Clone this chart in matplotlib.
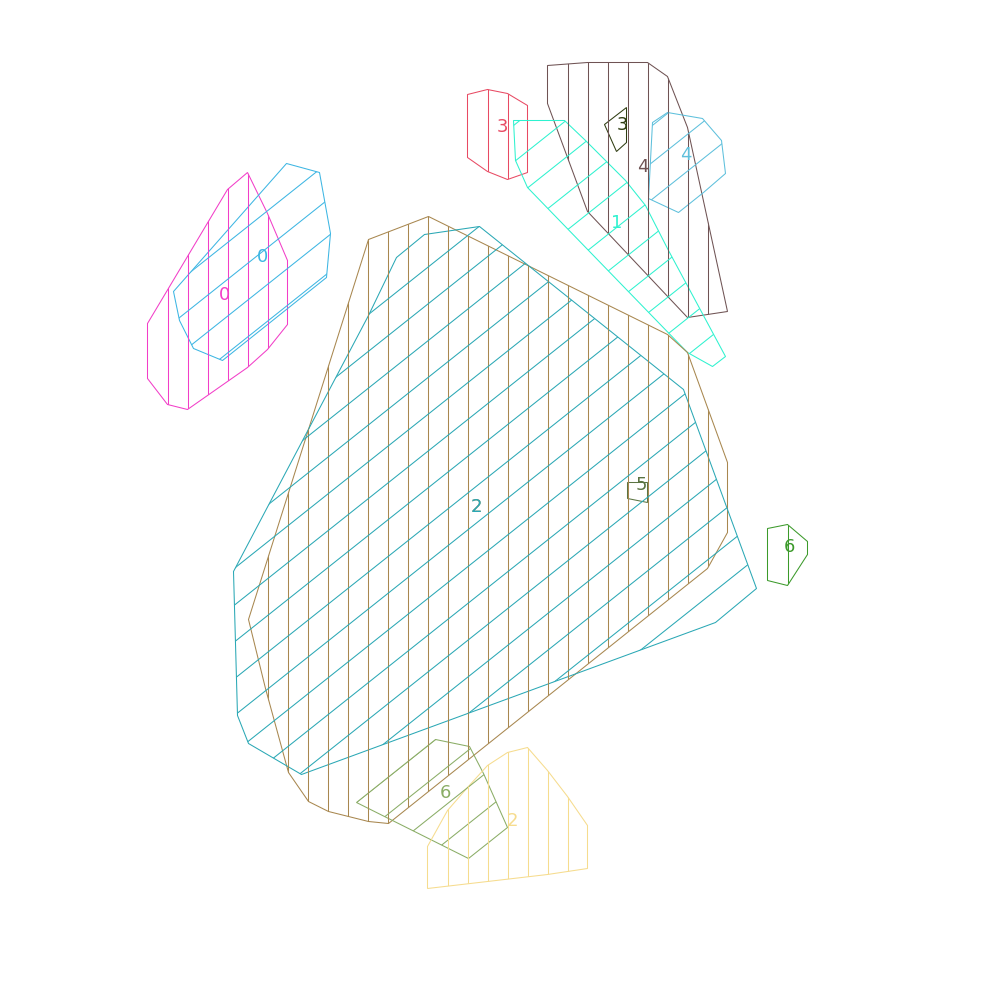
import matplotlib
matplotlib.use("Agg")
import matplotlib.pyplot as plt
import numpy as np
from matplotlib.patches import Polygon
from matplotlib.collections import LineCollection

# Cluster hulls, in pixel coordinates (x right, y down)
hull_0a = [(247, 172), (267, 213), (287, 260), (287, 324), (267, 349), (247, 367), (187, 409),
           (167, 404), (147, 378), (147, 323), (227, 189)]
hull_0b = [(286, 163), (319, 172), (330, 233), (326, 277), (222, 360), (193, 348), (179, 320), (173, 291)]
hull_3a = [(467, 94), (487, 89), (507, 93), (527, 105), (527, 172), (507, 179), (487, 171), (467, 157)]
hull_4a = [(547, 65), (587, 62), (647, 62), (667, 76), (687, 127), (727, 311), (687, 317), (587, 211), (547, 103)]
hull_3b = [(626, 107), (626, 142), (616, 151), (604, 124)]
hull_1 = [(513, 120), (564, 120), (585, 140), (625, 180), (645, 205), (668, 250), (725, 356),
          (712, 366), (687, 352), (527, 187), (515, 160)]
hull_4b = [(667, 112), (702, 118), (721, 140), (725, 173), (703, 192), (678, 212), (648, 198), (652, 122)]
hull_2a = [(428, 216), (667, 334), (687, 352), (727, 462), (727, 532), (707, 568), (388, 823), (368, 821),
           (328, 811), (308, 801), (288, 772), (265, 688), (248, 619), (368, 239)]
hull_2b = [(479, 226), (683, 389), (756, 588), (715, 622), (301, 774), (248, 743), (237, 715),
           (233, 571), (368, 315), (396, 257), (424, 234)]
hull_5 = [(627, 482), (647, 482), (647, 502), (627, 498)]
hull_6a = [(767, 528), (787, 524), (807, 541), (807, 554), (787, 585), (767, 580)]
hull_6b = [(435, 739), (469, 746), (483, 773), (507, 827), (468, 858), (356, 802)]
hull_2c = [(427, 846), (447, 810), (467, 787), (487, 765), (507, 752), (527, 747), (547, 770),
           (567, 796), (587, 825), (587, 868), (547, 874), (427, 888)]

hulls = [hull_0a, hull_0b, hull_3a, hull_4a, hull_3b, hull_1, hull_4b, hull_2a, hull_2b, hull_5, hull_6a, hull_6b, hull_2c]
labels = ["0", "0", "3", "4", "3", "1", "4", "2", "2", "5", "6", "6", "2"]
label_pos = [(224, 295), (262, 257), (502, 127), (642, 167), (622, 124), (616, 222), (685, 154),
             (476, 507), (476, 507), (641, 484), (789, 547), (445, 792), (512, 820)]
colors = ["#f23ec8", "#3db6e3", "#e84a63", "#6f5354", "#2f3d12", "#2ef2cf", "#5ec0dc",
          "#a8874f", "#2aa8b5", "#5b7442", "#3c9a2b", "#8aad66", "#f6dc8e"]
hatches = ["|", "/", "|", "|", "", "/", "/", "|", "/", "", "|", "/", "|"]

fig = plt.figure(figsize=(10, 10), dpi=100)
ax = fig.add_axes([0, 0, 1, 1])
# half-pixel shift so integer coordinates land on pixel centres
ax.set_xlim(-0.5, 999.5)
ax.set_ylim(999.5, -0.5)
ax.axis("off")

# hatch grid shared by all hulls
theta = np.deg2rad(38.5)
d = np.array([np.cos(theta), -np.sin(theta)])
n = np.array([np.sin(theta), np.cos(theta)])
diag_step = 28.8
diag_c0 = 14.0
vert_step = 20.0
vert_x0 = 7.0
lw = 0.75

for pts, lab, pos, col, h in zip(hulls, labels, label_pos, colors, hatches):
    pts = np.array(pts, dtype=float)
    patch = Polygon(pts, closed=True, fill=False, edgecolor=col, linewidth=lw)
    ax.add_patch(patch)

    segs = []
    if h == "|":
        x_min, x_max = pts[:, 0].min(), pts[:, 0].max()
        x_lo = vert_x0 + vert_step * np.ceil((x_min + 1 - vert_x0) / vert_step)
        for x in np.arange(x_lo, x_max - 1, vert_step):
            segs.append([(x, pts[:, 1].min() - 5), (x, pts[:, 1].max() + 5)])
    elif h == "/":
        c = pts @ n
        c_lo = diag_c0 + diag_step * np.ceil((c.min() - diag_c0) / diag_step)
        for cc in np.arange(c_lo, c.max(), diag_step):
            segs.append([cc * n - 1500 * d, cc * n + 1500 * d])
    if segs:
        lc = LineCollection(segs, colors=col, linewidths=lw)
        ax.add_collection(lc)
        lc.set_clip_path(patch)

    ax.text(pos[0], pos[1], lab, color=col, fontsize=13, ha="center", va="center", zorder=5)

fig.savefig("out.png", dpi=100)
